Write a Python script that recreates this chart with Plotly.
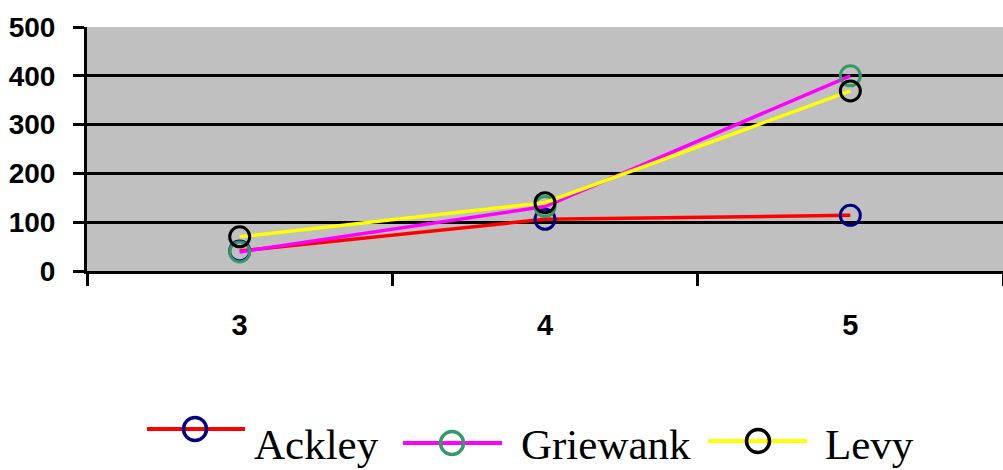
import plotly.graph_objects as go

categories = ["3", "4", "5"]
ackley = [41, 106, 114]
griewank = [39, 132, 400]
levy = [70, 140, 369]

names = ["Ackley", "Griewank", "Levy"]
values = [ackley, griewank, levy]
line_colors = ["#FF0000", "#FF00FF", "#FFFF00"]
marker_colors = ["#000080", "#339966", "#000000"]

W, H = 1003, 470
L, R, T, B = 87, 0, 27, 199
PW, PH = W - L - R, H - T - B


def px_x(p):
    return (p - L) / PW


def px_y(p):
    return (H - B - p) / PH


fig = go.Figure()
for name, vals, lc, mc in zip(names, values, line_colors, marker_colors):
    fig.add_trace(go.Scatter(
        x=categories, y=vals, name=name, mode="lines+markers",
        line=dict(color=lc, width=3.5),
        marker=dict(symbol="circle-open", size=20, color=mc,
                    line=dict(width=3, color=mc)),
    ))

# legend keys drawn below the axis: line, open circle, label
legend_keys = [
    # line start, line end, line y, circle x, label x
    (147, 245, 429, 195, 255),
    (403, 502, 443, 452, 522),
    (708, 807, 441, 758, 826),
]
shapes = []
annotations = []
for (x0, x1, ly, cx, tx), name, lc, mc in zip(legend_keys, names, line_colors, marker_colors):
    shapes.append(dict(type="line", xref="paper", yref="paper",
                       x0=px_x(x0), x1=px_x(x1), y0=px_y(ly), y1=px_y(ly),
                       line=dict(color=lc, width=4)))
    shapes.append(dict(type="circle", xref="paper", yref="paper",
                       xsizemode="pixel", ysizemode="pixel",
                       xanchor=px_x(cx), yanchor=px_y(ly),
                       x0=-11.5, x1=11.5, y0=-11.5, y1=11.5,
                       line=dict(color=mc, width=3.5), fillcolor="rgba(0,0,0,0)"))
    annotations.append(dict(xref="paper", yref="paper", x=px_x(tx - 3), y=px_y(444),
                            xanchor="left", yanchor="middle", showarrow=False,
                            text=name,
                            font=dict(family="Liberation Serif, Times New Roman",
                                      size=43, color="black")))

fig.update_layout(
    width=W, height=H,
    margin=dict(l=L, r=R, t=T, b=B, autoexpand=False),
    paper_bgcolor="white", plot_bgcolor="#C0C0C0",
    font=dict(family="Liberation Sans, Arial", color="black"),
    showlegend=False,
    shapes=shapes,
    annotations=annotations,
)
fig.update_xaxes(
    type="category", range=[-0.5, 2.5], tickson="boundaries",
    ticks="outside", ticklen=12, tickwidth=3, tickcolor="black",
    showline=True, linewidth=3, linecolor="black", showgrid=False,
    tickfont=dict(size=29, family="Liberation Sans, Arial", weight="bold"),
    ticklabelstandoff=26,
)
fig.update_yaxes(
    range=[0, 500], tickvals=[0, 100, 200, 300, 400, 500],
    ticks="outside", ticklen=11, tickwidth=3, tickcolor="black",
    showline=True, linewidth=3, linecolor="black",
    showgrid=True, gridcolor="black", gridwidth=3, zeroline=False,
    tickfont=dict(size=28, family="Liberation Sans, Arial", weight="bold"),
    ticklabelstandoff=12,
)

fig.write_html("out.html")
